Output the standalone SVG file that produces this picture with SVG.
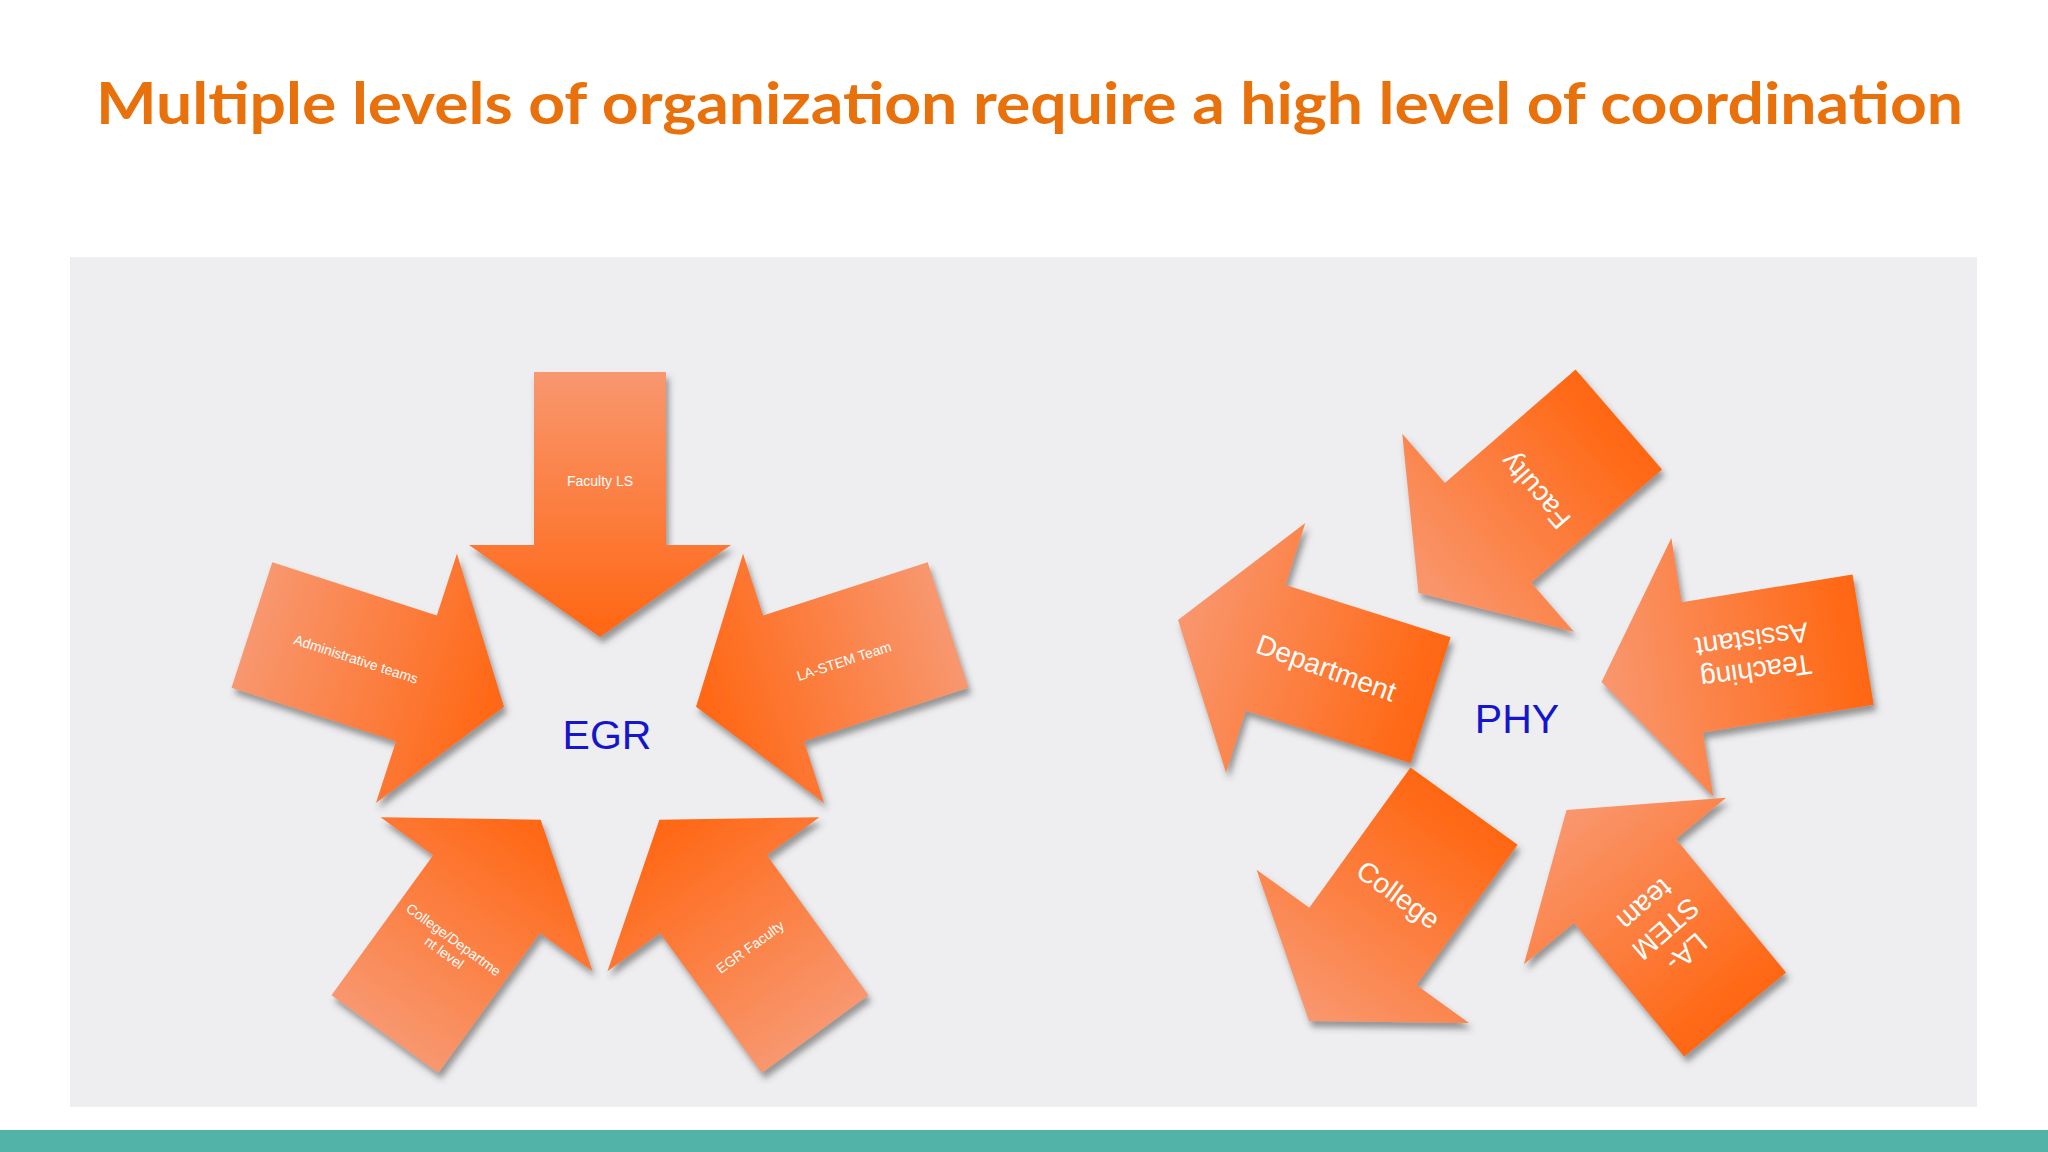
<svg xmlns="http://www.w3.org/2000/svg" xmlns:xlink="http://www.w3.org/1999/xlink" width="2048" height="1152" viewBox="0 0 2048 1152">
<style>
.lbl{font-family:"Liberation Sans",Arial,sans-serif;fill:#ffffff;text-anchor:middle}
.s{font-size:14px}
.l{font-size:28px}
.hub{font-family:"Liberation Sans",Arial,sans-serif;font-size:41px;fill:#1515CC;text-anchor:middle}
.title{font-family:Lato,"Open Sans",sans-serif;font-weight:700;font-size:58px;fill:#E8710C}
</style>
<defs>
<path id="arrow" d="M0,0 L-92,-131 L-92,-66 L-265,-66 L-265,66 L-92,66 L-92,131 Z"/>
<linearGradient id="gE" gradientUnits="userSpaceOnUse" x1="-265" y1="0" x2="0" y2="0">
<stop offset="0" stop-color="#F8976F"/><stop offset="1" stop-color="#FF6612"/>
</linearGradient>
<linearGradient id="gP" gradientUnits="userSpaceOnUse" x1="-265" y1="0" x2="0" y2="0">
<stop offset="0" stop-color="#FF6610"/><stop offset="1" stop-color="#F9976F"/>
</linearGradient>
<filter id="sh" x="-20%" y="-20%" width="140%" height="150%">
<feDropShadow dx="3" dy="6" stdDeviation="3" flood-color="#3a3a3a" flood-opacity="0.5"/>
</filter>
</defs>

<rect x="0" y="0" width="2048" height="1152" fill="#ffffff"/>
<rect x="70" y="257" width="1907" height="850" fill="#EEEDEF"/>
<rect x="0" y="1130" width="2048" height="22" fill="#52B4A8"/>

<text class="title" x="96" y="124" textLength="1867" lengthAdjust="spacingAndGlyphs">Multiple levels of organization require a high level of coordination</text>

<!-- EGR cluster -->
<g id="egr-faculty-ls">
<g filter="url(#sh)"><use href="#arrow" xlink:href="#arrow" fill="url(#gE)" transform="translate(600 637) rotate(90)"/></g>
<text class="lbl s" x="600" y="486">Faculty LS</text>
</g>
<g id="egr-la-stem-team">
<g filter="url(#sh)"><use href="#arrow" xlink:href="#arrow" fill="url(#gE)" transform="rotate(72 600 738) translate(600 637) rotate(90)"/></g>
<text class="lbl s" transform="translate(844 661) rotate(-18)" x="0" y="5">LA-STEM Team</text>
</g>
<g id="egr-egr-faculty">
<g filter="url(#sh)"><use href="#arrow" xlink:href="#arrow" fill="url(#gE)" transform="rotate(144 600 738) translate(600 637) rotate(90)"/></g>
<text class="lbl s" transform="translate(750 947) rotate(-36)" x="0" y="5">EGR Faculty</text>
</g>
<g id="egr-college-department">
<g filter="url(#sh)"><use href="#arrow" xlink:href="#arrow" fill="url(#gE)" transform="rotate(216 600 738) translate(600 637) rotate(90)"/></g>
<text class="lbl s" transform="translate(449 946) rotate(36)"><tspan x="0" y="-3">College/Departme</tspan><tspan x="0" y="13">nt level</tspan></text>
</g>
<g id="egr-administrative-teams">
<g filter="url(#sh)"><use href="#arrow" xlink:href="#arrow" fill="url(#gE)" transform="rotate(288 600 738) translate(600 637) rotate(90)"/></g>
<text class="lbl s" transform="translate(356 659) rotate(18)" x="0" y="5">Administrative teams</text>
</g>
<g id="egr-hub"><text class="hub" x="607" y="749">EGR</text></g>

<!-- PHY cluster -->
<g id="phy-faculty">
<g filter="url(#sh)"><use href="#arrow" xlink:href="#arrow" fill="url(#gP)" transform="translate(1418.5 593) rotate(139.1)"/></g>
<text class="lbl l" transform="translate(1535 491) rotate(-131)" x="0" y="10">Faculty</text>
</g>
<g id="phy-department">
<g filter="url(#sh)"><use href="#arrow" xlink:href="#arrow" fill="url(#gP)" transform="translate(1178 620) rotate(197.6)"/></g>
<text class="lbl l" transform="translate(1326.5 667.5) rotate(20)" x="0" y="10">Department</text>
</g>
<g id="phy-teaching-assistant">
<g filter="url(#sh)"><use href="#arrow" xlink:href="#arrow" fill="url(#gP)" transform="translate(1601.5 682) rotate(170.8)"/></g>
<text class="lbl l" transform="translate(1754 656) rotate(172)"><tspan x="0" y="-6">Teaching</tspan><tspan x="0" y="26">Assistant</tspan></text>
</g>
<g id="phy-la-stem-team">
<g filter="url(#sh)"><use href="#arrow" xlink:href="#arrow" fill="url(#gP)" transform="translate(1566.5 810) rotate(230.5)"/></g>
<text class="lbl l" transform="translate(1666 929) rotate(139)"><tspan x="0" y="-22">LA-</tspan><tspan x="0" y="10">STEM</tspan><tspan x="0" y="42">team</tspan></text>
</g>
<g id="phy-college">
<g filter="url(#sh)"><use href="#arrow" xlink:href="#arrow" fill="url(#gP)" transform="translate(1309 1021) rotate(125.8)"/></g>
<text class="lbl l" transform="translate(1398.5 894.5) rotate(36)" x="0" y="10">College</text>
</g>
<g id="phy-hub"><text class="hub" x="1517" y="733">PHY</text></g>

<g id="connectors"></g>
</svg>
